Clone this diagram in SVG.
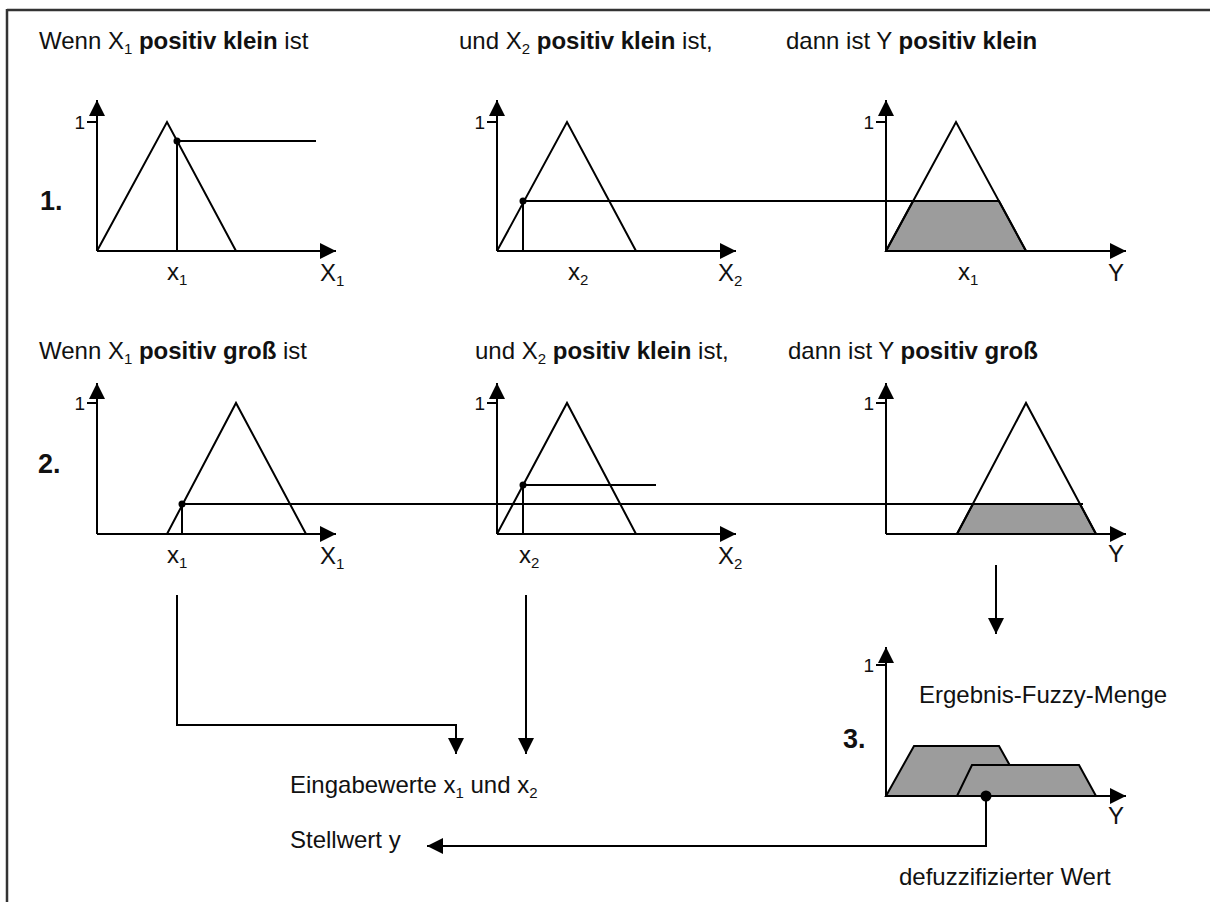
<svg xmlns="http://www.w3.org/2000/svg" width="1210" height="902" viewBox="0 0 1210 902">
<defs>
<marker id="arr" markerUnits="userSpaceOnUse" markerWidth="17" markerHeight="16" refX="16" refY="8" orient="auto">
<path d="M0,0 L16,8 L0,16 Z" fill="#000"/>
</marker>
<style>
.ln{stroke:#000;stroke-width:2;fill:none}
.ax{stroke:#000;stroke-width:2;fill:none;marker-end:url(#arr)}
.sh{fill:#9c9c9c;stroke:#000;stroke-width:2}
.t{font-family:"Liberation Sans",Arial,sans-serif;font-size:24px;fill:#111}
.b{font-weight:bold}
.one{font-family:"Liberation Sans",Arial,sans-serif;font-size:19px;fill:#111;text-anchor:end}
.num{font-family:"Liberation Sans",Arial,sans-serif;font-size:27px;font-weight:bold;fill:#111}
.sub{font-size:15px}
</style>
</defs>
<rect width="1210" height="902" fill="#fff"/>
<g id="frame">
<line x1="7" y1="10" x2="1210" y2="10" stroke="#333" stroke-width="2.5"/>
<line x1="7" y1="9" x2="7" y2="902" stroke="#333" stroke-width="2.5"/>
</g>

<g id="titles">
<text class="t" x="39" y="49">Wenn X<tspan class="sub" dy="5">1</tspan><tspan dy="-5"> </tspan><tspan class="b">positiv klein</tspan> ist</text>
<text class="t" x="459" y="49">und X<tspan class="sub" dy="5">2</tspan><tspan dy="-5"> </tspan><tspan class="b">positiv klein</tspan> ist,</text>
<text class="t" x="786" y="49">dann ist Y <tspan class="b">positiv klein</tspan></text>
<text class="t" x="39" y="359">Wenn X<tspan class="sub" dy="5">1</tspan><tspan dy="-5"> </tspan><tspan class="b">positiv groß</tspan> ist</text>
<text class="t" x="475" y="359">und X<tspan class="sub" dy="5">2</tspan><tspan dy="-5"> </tspan><tspan class="b">positiv klein</tspan> ist,</text>
<text class="t" x="788" y="359">dann ist Y <tspan class="b">positiv groß</tspan></text>
<text class="num" x="40" y="210">1.</text>
<text class="num" x="38" y="473">2.</text>
<text class="num" x="843" y="748">3.</text>
</g>

<g id="r1g1">
<line class="ax" x1="97" y1="251" x2="97" y2="100"/>
<line class="ax" x1="97" y1="251" x2="336" y2="251"/>
<line class="ln" x1="87" y1="122" x2="97" y2="122"/>
<text class="one" x="85" y="129">1</text>
<polyline class="ln" points="97,251 167,122 236,251"/>
<text class="t" x="167" y="280">x<tspan class="sub" dy="5">1</tspan></text>
<text class="t" x="320" y="281">X<tspan class="sub" dy="5">1</tspan></text>
</g>

<g id="r1g2">
<line class="ax" x1="497" y1="251" x2="497" y2="100"/>
<line class="ax" x1="497" y1="251" x2="736" y2="251"/>
<line class="ln" x1="487" y1="122" x2="497" y2="122"/>
<text class="one" x="485" y="129">1</text>
<polyline class="ln" points="497,251 567,122 636,251"/>
<text class="t" x="568" y="280">x<tspan class="sub" dy="5">2</tspan></text>
<text class="t" x="718" y="281">X<tspan class="sub" dy="5">2</tspan></text>
</g>

<g id="r1g3">
<polygon class="sh" points="886,251 913,201 999,201 1026,251"/>
<line class="ax" x1="886" y1="251" x2="886" y2="100"/>
<line class="ax" x1="886" y1="251" x2="1126" y2="251"/>
<line class="ln" x1="876" y1="122" x2="886" y2="122"/>
<text class="one" x="874" y="129">1</text>
<polyline class="ln" points="886,251 956,122 1026,251"/>
<text class="t" x="958" y="280">x<tspan class="sub" dy="5">1</tspan></text>
<text class="t" x="1108" y="281">Y</text>
</g>

<g id="r2g1">
<line class="ax" x1="97" y1="534" x2="97" y2="383"/>
<line class="ax" x1="97" y1="534" x2="336" y2="534"/>
<line class="ln" x1="87" y1="403" x2="97" y2="403"/>
<text class="one" x="85" y="410">1</text>
<polyline class="ln" points="167,534 236,403 306,534"/>
<text class="t" x="167" y="563">x<tspan class="sub" dy="5">1</tspan></text>
<text class="t" x="320" y="564">X<tspan class="sub" dy="5">1</tspan></text>
</g>

<g id="r2g2">
<line class="ax" x1="497" y1="534" x2="497" y2="383"/>
<line class="ax" x1="497" y1="534" x2="736" y2="534"/>
<line class="ln" x1="487" y1="403" x2="497" y2="403"/>
<text class="one" x="485" y="410">1</text>
<polyline class="ln" points="497,534 567,403 636,534"/>
<text class="t" x="519" y="563">x<tspan class="sub" dy="5">2</tspan></text>
<text class="t" x="718" y="564">X<tspan class="sub" dy="5">2</tspan></text>
</g>

<g id="r2g3">
<polygon class="sh" points="957,534 973,504 1080,504 1096,534"/>
<line class="ax" x1="886" y1="534" x2="886" y2="383"/>
<line class="ax" x1="886" y1="534" x2="1126" y2="534"/>
<line class="ln" x1="876" y1="403" x2="886" y2="403"/>
<text class="one" x="874" y="410">1</text>
<polyline class="ln" points="957,534 1026,403 1096,534"/>
<text class="t" x="1108" y="562">Y</text>
</g>

<g id="r3">
<polygon class="sh" points="886,796 914,746 999,746 1027,796"/>
<polygon class="sh" points="957,796 972,765 1079,765 1096,796"/>
<line class="ax" x1="886" y1="796" x2="886" y2="647"/>
<line class="ax" x1="886" y1="796" x2="1126" y2="796"/>
<line class="ln" x1="876" y1="665" x2="886" y2="665"/>
<text class="one" x="874" y="672">1</text>
<text class="t" x="1108" y="824">Y</text>
<text class="t" x="919" y="703">Ergebnis-Fuzzy-Menge</text>
<text class="t" x="899" y="885">defuzzifizierter Wert</text>
<circle cx="986" cy="796" r="5.5" fill="#000"/>
</g>

<g id="labels">
<text class="t" x="290" y="793">Eingabewerte x<tspan class="sub" dy="5">1</tspan><tspan dy="-5"> und x</tspan><tspan class="sub" dy="5">2</tspan></text>
<text class="t" x="290" y="848">Stellwert y</text>
</g>

<g id="connectors">
<polyline class="ln" points="177,251 177,141 316,141"/>
<circle cx="177" cy="141" r="3.5"/>
<polyline class="ln" points="523,251 523,201 999,201"/>
<circle cx="523" cy="201" r="3.5"/>
<polyline class="ln" points="182,534 182,504 1083,504"/>
<circle cx="182" cy="504" r="3.5"/>
<polyline class="ln" points="523,534 523,485 656,485"/>
<circle cx="523" cy="485" r="3.5"/>
<polyline class="ax" points="177,595 177,725 456,725 456,754"/>
<line class="ax" x1="526" y1="595" x2="526" y2="754"/>
<line class="ax" x1="996" y1="565" x2="996" y2="634"/>
<polyline class="ax" points="986,796 986,846 427,846"/>
</g>
</svg>
